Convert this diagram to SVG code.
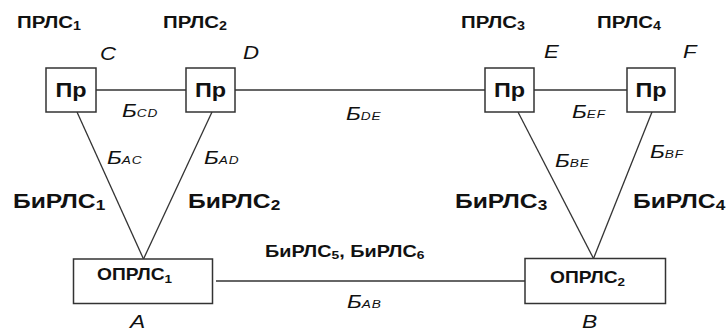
<svg xmlns="http://www.w3.org/2000/svg" width="728" height="333" viewBox="0 0 728 333">
<style>
.box{fill:#fff;stroke:#333;stroke-width:1.5}
.ln{stroke:#333;stroke-width:1.3;fill:none}
text{font-family:"Liberation Sans",Arial,sans-serif;fill:#111}
.pr{font-size:19.5px;font-weight:bold}
.lbl{font-size:17px;font-weight:bold}
.big{font-size:20.5px;font-weight:bold}
.op{font-size:16px;font-weight:bold}
.mid{font-size:16.5px;font-weight:bold}
.it{font-style:italic;font-size:18.5px}
.it2{font-style:italic;font-size:19px}
.bl{font-style:italic;font-size:17.5px}
.bs{font-size:10.5px;letter-spacing:0.6px}
.s{font-size:70%}
</style>
<rect width="728" height="333" fill="#fff"/>
<g id="connectors">
<line class="ln" x1="96" y1="90" x2="186" y2="90"/>
<line class="ln" x1="235" y1="90" x2="485" y2="90"/>
<line class="ln" x1="534" y1="90" x2="627" y2="90"/>
<line class="ln" x1="216" y1="281" x2="525" y2="281"/>
<line class="ln" x1="77" y1="112" x2="143.5" y2="259"/>
<line class="ln" x1="212" y1="112" x2="143.5" y2="259"/>
<line class="ln" x1="518" y1="112" x2="593.5" y2="258.5"/>
<line class="ln" x1="652" y1="112" x2="593.5" y2="258.5"/>
</g>
<g id="C"><rect class="box" x="46" y="68" width="50" height="44"/><text transform="translate(71,97) scale(1.2,1)" text-anchor="middle" class="pr">Пр</text></g>
<g id="D"><rect class="box" x="186" y="68" width="49" height="44"/><text transform="translate(210.5,97) scale(1.2,1)" text-anchor="middle" class="pr">Пр</text></g>
<g id="E"><rect class="box" x="485" y="68" width="49" height="44"/><text transform="translate(509.5,97) scale(1.2,1)" text-anchor="middle" class="pr">Пр</text></g>
<g id="F"><rect class="box" x="627" y="68" width="48" height="44"/><text transform="translate(651,97) scale(1.2,1)" text-anchor="middle" class="pr">Пр</text></g>
<g id="A"><rect class="box" x="73.5" y="259" width="139" height="44.5"/><text transform="translate(97,280) scale(1.2,1)" class="op">ОПРЛС<tspan class="s" dy="3">1</tspan></text></g>
<g id="B"><rect class="box" x="525" y="258.5" width="140.5" height="45"/><text transform="translate(550,283) scale(1.2,1)" class="op">ОПРЛС<tspan class="s" dy="3">2</tspan></text></g>
<g id="labels">
<text transform="translate(17,28) scale(1.2,1)" class="lbl">ПРЛС<tspan class="s" dy="2">1</tspan></text>
<text transform="translate(163,28) scale(1.2,1)" class="lbl">ПРЛС<tspan class="s" dy="2">2</tspan></text>
<text transform="translate(461,28) scale(1.2,1)" class="lbl">ПРЛС<tspan class="s" dy="2">3</tspan></text>
<text transform="translate(597,28) scale(1.2,1)" class="lbl">ПРЛС<tspan class="s" dy="2">4</tspan></text>
<text transform="translate(100,60) scale(1.2,1)" class="it">C</text>
<text transform="translate(243,59) scale(1.2,1)" class="it">D</text>
<text transform="translate(544,58) scale(1.2,1)" class="it">E</text>
<text transform="translate(683,58) scale(1.2,1)" class="it">F</text>
<text transform="translate(130,328) scale(1.2,1)" class="it2">A</text>
<text transform="translate(582,328) scale(1.2,1)" class="it2">B</text>
<text transform="translate(122,117) scale(1.3,1)" class="bl">Б<tspan class="bs">CD</tspan></text>
<text transform="translate(346,120) scale(1.3,1)" class="bl">Б<tspan class="bs">DE</tspan></text>
<text transform="translate(572,118) scale(1.3,1)" class="bl">Б<tspan class="bs">EF</tspan></text>
<text transform="translate(107,164) scale(1.3,1)" class="bl">Б<tspan class="bs">AC</tspan></text>
<text transform="translate(204,164) scale(1.3,1)" class="bl">Б<tspan class="bs">AD</tspan></text>
<text transform="translate(555,167) scale(1.3,1)" class="bl">Б<tspan class="bs">BE</tspan></text>
<text transform="translate(650,158) scale(1.3,1)" class="bl">Б<tspan class="bs">BF</tspan></text>
<text transform="translate(347,308) scale(1.3,1)" class="bl">Б<tspan class="bs">AB</tspan></text>
<text transform="translate(13,208) scale(1.2,1)" class="big">БиРЛС<tspan class="s" dy="2">1</tspan></text>
<text transform="translate(188,208) scale(1.2,1)" class="big">БиРЛС<tspan class="s" dy="2">2</tspan></text>
<text transform="translate(455,208) scale(1.2,1)" class="big">БиРЛС<tspan class="s" dy="2">3</tspan></text>
<text transform="translate(633,208) scale(1.2,1)" class="big">БиРЛС<tspan class="s" dy="2">4</tspan></text>
<text transform="translate(265,257) scale(1.2,1)" class="mid">БиРЛС<tspan class="s" dy="2">5</tspan><tspan dy="-2">, БиРЛС</tspan><tspan class="s" dy="2">6</tspan></text>
</g>
</svg>
